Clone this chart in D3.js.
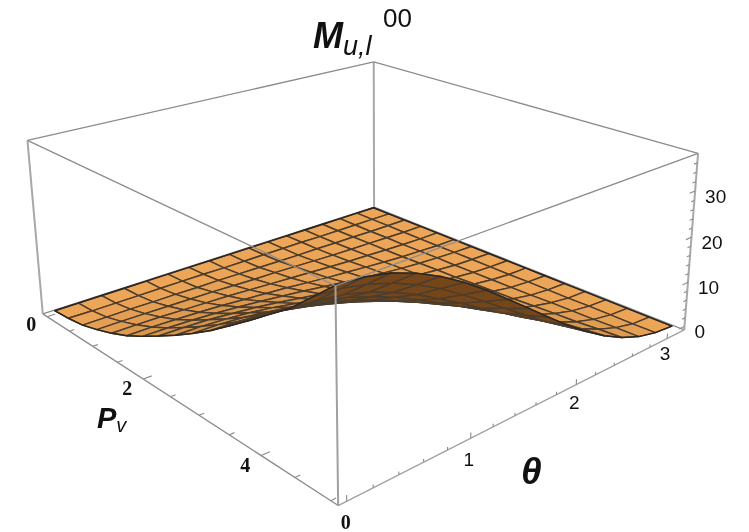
<!DOCTYPE html>
<html>
<head>
<meta charset="utf-8">
<script src="https://cdn.jsdelivr.net/npm/d3@7"></script>
<style>
  body { margin: 0; background: #fff; }
  svg { filter: blur(0.45px); }
  text { fill: #111; }
  .serif { font-family: "Liberation Serif", serif; font-weight: bold; font-size: 20px; }
  .sans { font-family: "Liberation Sans", sans-serif; font-size: 19px; }
  .title { font-family: "Liberation Sans", sans-serif; font-style: italic; }
</style>
</head>
<body>
<div id="chart"></div>
<script>
// tick values on the three axes
var pMajor = [0, 2, 4];
var pMinor = [0.5, 1, 1.5, 2.5, 3, 3.5, 4.5, 5];
var thetaMajor = [0, 1, 2, 3];
var thetaMinor = [0.2, 0.4, 0.6, 0.8, 1.2, 1.4, 1.6, 1.8, 2.2, 2.4, 2.6, 2.8];
var zMajor = [0, 10, 20, 30];
var zMinor = [2, 4, 6, 8, 12, 14, 16, 18, 22, 24, 26, 28, 32, 34, 36];

// grid the surface was read on, 16 mesh cells each way
var pGrid = [0, 0.3125, 0.625, 0.9375, 1.25, 1.5625, 1.875, 2.1875, 2.5, 2.8125, 3.125, 3.4375, 3.75, 4.0625, 4.375, 4.6875, 5];
var thetaGrid = [0, 0.196, 0.393, 0.589, 0.785, 0.982, 1.178, 1.374, 1.571, 1.767, 1.963, 2.16, 2.356, 2.553, 2.749, 2.945, 3.142];

// height of the surface, one row per P, one column per theta
var zRows = [
  [0, 0, 0, 0, 0, 0, 0, 0, 0, 0, 0, 0, 0, 0, 0, 0, 0],
  [0.3, 0.2, 0.2, 0.2, 0.2, 0.2, 0.2, 0.1, 0.1, 0.1, 0.1, 0.1, 0, 0, 0, 0, 0],
  [0.8, 0.8, 0.8, 0.7, 0.7, 0.6, 0.6, 0.5, 0.4, 0.3, 0.2, 0.2, 0.1, 0.1, 0, 0, 0],
  [1.9, 1.9, 1.8, 1.7, 1.6, 1.5, 1.3, 1.1, 1, 0.8, 0.6, 0.4, 0.3, 0.2, 0.1, 0, 0],
  [3.2, 3.2, 3.1, 2.9, 2.7, 2.5, 2.2, 1.9, 1.6, 1.3, 1, 0.7, 0.5, 0.3, 0.1, 0, 0],
  [4.8, 4.8, 4.6, 4.4, 4.1, 3.7, 3.3, 2.9, 2.4, 1.9, 1.5, 1.1, 0.7, 0.4, 0.2, 0, 0],
  [6.8, 6.7, 6.5, 6.2, 5.8, 5.3, 4.7, 4.1, 3.4, 2.7, 2.1, 1.5, 1, 0.6, 0.3, 0.1, 0],
  [9, 8.9, 8.7, 8.2, 7.7, 7, 6.2, 5.4, 4.5, 3.6, 2.8, 2, 1.3, 0.8, 0.3, 0.1, 0],
  [11.3, 11.2, 10.9, 10.4, 9.7, 8.8, 7.8, 6.8, 5.7, 4.5, 3.5, 2.5, 1.6, 0.9, 0.4, 0.1, 0],
  [13.8, 13.7, 13.3, 12.6, 11.8, 10.7, 9.5, 8.3, 6.9, 5.5, 4.3, 3.1, 2, 1.2, 0.5, 0.1, 0],
  [16.5, 16.3, 15.9, 15.1, 14.1, 12.8, 11.4, 9.9, 8.3, 6.6, 5.1, 3.7, 2.4, 1.4, 0.6, 0.2, 0],
  [19.5, 19.3, 18.8, 17.9, 16.7, 15.2, 13.5, 11.7, 9.8, 7.8, 6, 4.3, 2.8, 1.6, 0.7, 0.2, 0],
  [22.6, 22.4, 21.7, 20.7, 19.3, 17.6, 15.6, 13.5, 11.3, 9.1, 7, 5, 3.3, 1.9, 0.9, 0.2, 0],
  [25.8, 25.5, 24.8, 23.6, 22, 20.1, 17.8, 15.4, 12.9, 10.4, 8, 5.7, 3.8, 2.2, 1, 0.3, 0],
  [29, 28.7, 27.9, 26.6, 24.8, 22.6, 20, 17.3, 14.5, 11.7, 9, 6.4, 4.2, 2.4, 1.1, 0.3, 0],
  [33, 32.7, 31.7, 30.2, 28.2, 25.7, 22.8, 19.7, 16.5, 13.3, 10.2, 7.3, 4.8, 2.8, 1.3, 0.3, 0],
  [37, 36.6, 35.6, 33.9, 31.6, 28.8, 25.6, 22.1, 18.5, 14.9, 11.4, 8.2, 5.4, 3.1, 1.4, 0.4, 0]
];

var width = 749, height = 532;

// plot range with the small padding around the data, box coordinates 0..1
var thetaScale = d3.scaleLinear().domain([-0.063, 3.205]).range([0, 1]);
var pScale = d3.scaleLinear().domain([-0.1, 5.1]).range([0, 1]);
var zScale = d3.scaleLinear().domain([-0.8, 38]).range([0, 1]);

// where the box corners land on the page, used to fit the perspective camera
var boxCorners = [
  {b: [0, 0, 0], s: [43, 313]},
  {b: [0, 1, 0], s: [337, 505]},
  {b: [1, 1, 0], s: [685, 330]},
  {b: [1, 0, 0], s: [374, 208]},
  {b: [0, 0, 1], s: [27, 140]},
  {b: [0, 1, 1], s: [337, 288]},
  {b: [1, 1, 1], s: [697, 152]},
  {b: [1, 0, 1], s: [374, 62]}
];

// least squares for x = (a.p + d) / (g.p + 1), normal equations + elimination
function fitCamera(points) {
  var n = 11;
  var ata = d3.range(n).map(() => new Array(n + 1).fill(0));
  function addRow(row, rhs) {
    for (var r = 0; r < n; r++) {
      for (var c = 0; c < n; c++) ata[r][c] += row[r] * row[c];
      ata[r][n] += row[r] * rhs;
    }
  }
  points.forEach(p => {
    var b = p.b, x = p.s[0], y = p.s[1];
    addRow([b[0], b[1], b[2], 1, 0, 0, 0, 0, -x * b[0], -x * b[1], -x * b[2]], x);
    addRow([0, 0, 0, 0, b[0], b[1], b[2], 1, -y * b[0], -y * b[1], -y * b[2]], y);
  });
  for (var i = 0; i < n; i++) {
    var best = i;
    for (var r = i + 1; r < n; r++) {
      if (Math.abs(ata[r][i]) > Math.abs(ata[best][i])) best = r;
    }
    var tmp = ata[i]; ata[i] = ata[best]; ata[best] = tmp;
    for (var r = 0; r < n; r++) {
      if (r == i) continue;
      var f = ata[r][i] / ata[i][i];
      for (var c = i; c <= n; c++) ata[r][c] -= f * ata[i][c];
    }
  }
  return ata.map((row, i) => row[n] / row[i]);
}

var cam = fitCamera(boxCorners);

// box coordinates to page
function project(u, v, w) {
  var d = cam[8] * u + cam[9] * v + cam[10] * w + 1;
  return [(cam[0] * u + cam[1] * v + cam[2] * w + cam[3]) / d,
          (cam[4] * u + cam[5] * v + cam[6] * w + cam[7]) / d];
}

var svg = d3.select("#chart")
    .append("svg")
    .attr("width", width)
    .attr("height", height);

var line = d3.line();
var boxColor = "#8c8c8c";

function boxEdge(a, b, sw, color) {
  svg.append("path")
      .attr("d", line([project(a[0], a[1], a[2]), project(b[0], b[1], b[2])]))
      .attr("fill", "none")
      .attr("stroke", color || boxColor)
      .attr("stroke-width", sw);
}

// edges behind the surface
boxEdge([0, 0, 0], [1, 0, 0], 1.2);
boxEdge([1, 0, 0], [1, 1, 0], 1.2);
boxEdge([1, 0, 0], [1, 0, 1], 2, "#a8a8a8");
boxEdge([0, 0, 1], [1, 0, 1], 1.3);
boxEdge([1, 0, 1], [1, 1, 1], 1.3);
boxEdge([0, 0, 0], [0, 0, 1], 2, "#a8a8a8");
boxEdge([1, 1, 0], [1, 1, 1], 2, "#a8a8a8");

function gridPoint(i, j) {
  return [thetaScale(thetaGrid[j]), pScale(pGrid[i]), zScale(zRows[i][j])];
}

// surface cells, painted from the far corner to the near corner
var cells = [];
for (var j = thetaGrid.length - 2; j >= 0; j--) {
  for (var i = 0; i < pGrid.length - 1; i++) {
    cells.push({p: [gridPoint(i, j), gridPoint(i, j + 1), gridPoint(i + 1, j + 1), gridPoint(i + 1, j)]});
  }
}

var topShade = d3.scaleLinear().domain([0.35, 1]).range(["#b47e40", "#eda557"]).clamp(true);

function flatQuad(w) {
  return [project(0.2, 0.2, w), project(0.4, 0.2, w), project(0.4, 0.4, w), project(0.2, 0.4, w)];
}
var frontSign = d3.polygonArea(flatQuad(0.5));

cells.forEach(c => {
  c.s = c.p.map(q => project(q[0], q[1], q[2]));
  // signed page area: the sign tells which side of the sheet faces us
  c.area = d3.polygonArea(c.s);
  // slope in box units gives a plain lambert term for the lit side
  var sx = (c.p[1][2] - c.p[0][2]) / (c.p[1][0] - c.p[0][0]);
  var sy = (c.p[3][2] - c.p[0][2]) / (c.p[3][1] - c.p[0][1]);
  c.lit = 1 / Math.sqrt(1 + sx * sx + sy * sy);
});

svg.append("g")
  .selectAll("path")
  .data(cells)
  .join("path")
    .attr("d", c => line(c.s) + "Z")
    .attr("fill", c => c.area * frontSign > 0 ? topShade(c.lit) : "#75461a")
    .attr("stroke", "#4d3d2c")
    .attr("stroke-width", 1.45)
    .attr("stroke-linejoin", "round");

// dark outline round the sheet
var lastP = pGrid.length - 1, lastT = thetaGrid.length - 1;
var outline = d3.range(lastT + 1).map(j => [0, j])
    .concat(d3.range(1, lastP + 1).map(i => [i, lastT]))
    .concat(d3.range(lastT - 1, -1, -1).map(j => [lastP, j]))
    .concat(d3.range(lastP - 1, 0, -1).map(i => [i, 0]))
    .map(k => gridPoint(k[0], k[1]))
    .map(q => project(q[0], q[1], q[2]));

svg.append("path")
    .attr("d", line(outline) + "Z")
    .attr("fill", "none")
    .attr("stroke", "#2b2620")
    .attr("stroke-width", 1.4)
    .attr("stroke-linejoin", "round");

// edges in front of the surface
boxEdge([0, 1, 0], [0, 1, 1], 2, "#a0a0a0");
boxEdge([0, 0, 1], [0, 1, 1], 1.3);
boxEdge([0, 1, 1], [1, 1, 1], 1.3);
boxEdge([0, 0, 0], [0, 1, 0], 1.3);
boxEdge([0, 1, 0], [1, 1, 0], 1.3, "#a0a0a0");

function tick(start, dir, len) {
  var a = project(start[0], start[1], start[2]);
  var b = project(start[0] + dir[0] * len, start[1] + dir[1] * len, start[2] + dir[2] * len);
  svg.append("path")
      .attr("d", line([a, b]))
      .attr("stroke", boxColor)
      .attr("stroke-width", 1.1);
}

thetaMajor.forEach(d => tick([thetaScale(d), 1, 0], [0, 0, 1], 0.03));
thetaMinor.forEach(d => tick([thetaScale(d), 1, 0], [0, 0, 1], 0.016));
pMajor.forEach(d => tick([0, pScale(d), 0], [1, 0, 0], 0.02));
pMinor.forEach(d => tick([0, pScale(d), 0], [1, 0, 0], 0.012));
zMajor.forEach(d => tick([1, 1, zScale(d)], [-1, 0, 0], 0.02));
zMinor.forEach(d => tick([1, 1, zScale(d)], [-1, 0, 0], 0.012));

function tickLabel(d, at, dx, dy, cls, anchor) {
  var s = project(at[0], at[1], at[2]);
  svg.append("text")
      .attr("class", cls)
      .attr("x", s[0] + dx)
      .attr("y", s[1] + dy)
      .attr("text-anchor", anchor)
      .text(d);
}

pMajor.forEach(d => tickLabel(d, [0, pScale(d), 0], -16, d == 0 ? 14 : 16, "serif", "middle"));
thetaMajor.forEach(d => tickLabel(d, [thetaScale(d), 1, 0], d == 0 ? -1 : -2,
    d == 0 ? 28 : 28 - 3.5 * (d - 1), d == 0 ? "serif" : "sans", "middle"));
zMajor.forEach(d => tickLabel(d, [1, 1, zScale(d)], 10, 12, "sans", "start"));

// axis titles
var zTitle = svg.append("text").attr("class", "title").attr("x", 313).attr("y", 48);
zTitle.append("tspan").attr("font-size", 36).attr("font-weight", "bold").text("M");
zTitle.append("tspan").attr("font-size", 27).attr("dy", 7).text("u,l");
svg.append("text").attr("x", 383).attr("y", 27)
    .attr("font-family", "Liberation Sans").attr("font-size", 26).text("00");

var pTitle = svg.append("text").attr("class", "title").attr("x", 97).attr("y", 428);
pTitle.append("tspan").attr("font-size", 29).attr("font-weight", "bold").text("P");
pTitle.append("tspan").attr("font-size", 20).attr("dy", 4).text("v");

svg.append("text").attr("class", "title").attr("x", 521).attr("y", 484)
    .attr("font-size", 37).attr("font-weight", "bold").text("θ");
</script>
</body>
</html>
